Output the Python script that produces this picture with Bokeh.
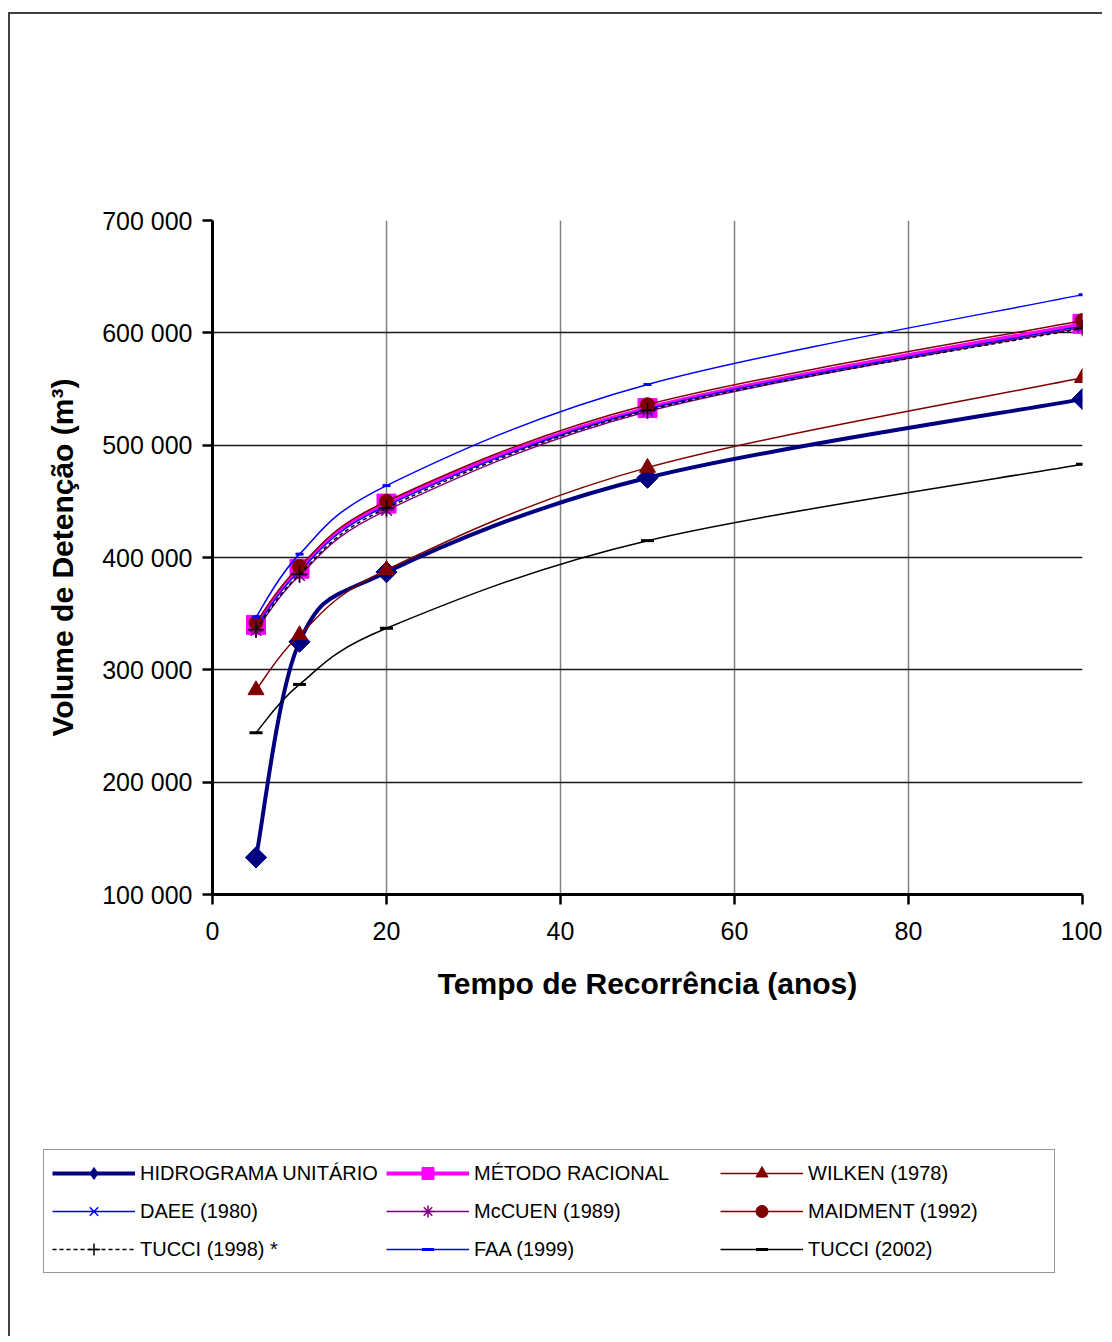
import math
from bokeh.plotting import figure
from bokeh.layouts import column
from bokeh.models import (Range1d, FixedTicker, CustomJSTickFormatter, Legend, LegendItem,
                          ColumnDataSource)
from bokeh.embed import file_html
from bokeh.resources import INLINE

# ---------------- data ----------------
tempo = [5, 10, 20, 50, 100]
hidrograma_unitario = [133000, 325000, 387000, 471000, 541000]
metodo_racional = [340000, 390000, 448000, 533000, 608000]
wilken_1978 = [282000, 331000, 389000, 480000, 560000]
daee_1980 = [338000, 388000, 446000, 532000, 606000]
mccuen_1989 = [335000, 384000, 442000, 530000, 605000]
maidment_1992 = [342000, 392000, 450000, 536000, 611000]
tucci_1998 = [336000, 385000, 444000, 531000, 604000]
faa_1999 = [347000, 403000, 464000, 554000, 634000]
tucci_2002 = [244000, 287000, 337000, 415000, 483000]

series_names = ["HIDROGRAMA UNITÁRIO", "MÉTODO RACIONAL", "WILKEN (1978)",
                "DAEE (1980)", "McCUEN (1989)", "MAIDMENT (1992)",
                "TUCCI (1998) *", "FAA (1999)", "TUCCI (2002)"]
series_values = [hidrograma_unitario, metodo_racional, wilken_1978,
                 daee_1980, mccuen_1989, maidment_1992,
                 tucci_1998, faa_1999, tucci_2002]

x_ticks = [0, 20, 40, 60, 80, 100]
y_ticks = [100000, 200000, 300000, 400000, 500000, 600000, 700000]

# ---------------- styles ----------------
styles = [
    dict(color="#000080", lw=4, dash="solid", marker="square", size=15, angle=math.pi / 4, fill="#000080", mlw=1,
         lmarker="diamond"),
    dict(color="#FF00FF", lw=4, dash="solid", marker="square", size=19, angle=0, fill="#FF00FF", mlw=1),
    dict(color="#800000", lw=1.5, dash="solid", marker="triangle", size=16, angle=0, fill="#800000", mlw=1),
    dict(color="#0000FF", lw=1.5, dash="solid", marker="x", size=14, angle=0, fill=None, mlw=1.5),
    dict(color="#800080", lw=1.5, dash="solid", marker="asterisk", size=15, angle=0, fill=None, mlw=1.5),
    dict(color="#800000", lw=1.5, dash="solid", marker="circle", size=14, angle=0, fill="#800000", mlw=1),
    dict(color="#000000", lw=1.5, dash="4 3", marker="cross", size=16, angle=0, fill=None, mlw=1.5),
    dict(color="#0000FF", lw=1.5, dash="solid", marker="dash", size=8, angle=0, fill=None, mlw=3),
    dict(color="#000000", lw=1.5, dash="solid", marker="dash", size=13, angle=0, fill=None, mlw=3),
]

FONT = "Liberation Sans"
BORDER = "2px solid #404040"

p = figure(frame_width=870, frame_height=674,
           min_border_left=202, min_border_top=206, min_border_right=20, min_border_bottom=206,
           x_range=Range1d(0, 100), y_range=Range1d(100000, 700000),
           output_backend="svg", toolbar_location=None,
           background_fill_color="white", border_fill_color="white")
p.outline_line_color = None

# axes
p.xaxis.ticker = FixedTicker(ticks=x_ticks)
p.yaxis.ticker = FixedTicker(ticks=y_ticks)
p.yaxis.formatter = CustomJSTickFormatter(
    code=r"return Math.round(tick).toString().replace(/\B(?=(\d{3})+(?!\d))/g, ' ');")
for ax in (p.xaxis[0], p.yaxis[0]):
    ax.axis_line_color = "black"
    ax.axis_line_width = 3
    ax.major_tick_line_color = "black"
    ax.major_tick_line_width = 2.5
    ax.major_tick_out = 10
    ax.major_tick_in = 0
    ax.minor_tick_line_color = None
    ax.major_label_text_font = FONT
    ax.major_label_text_font_size = "25px"
    ax.major_label_text_color = "black"
    ax.axis_label_text_font = FONT
    ax.axis_label_text_font_size = "30px"
    ax.axis_label_text_font_style = "bold"
    ax.axis_label_text_color = "black"
p.xaxis.major_label_standoff = 17
p.yaxis.major_label_standoff = 10
p.xaxis.axis_label = "Tempo de Recorrência (anos)"
p.yaxis.axis_label = "Volume de Detenção (m³)"
p.xaxis.axis_label_standoff = 24
p.yaxis.axis_label_standoff = 20

p.xgrid.ticker = FixedTicker(ticks=x_ticks)
p.ygrid.ticker = FixedTicker(ticks=y_ticks)
p.xgrid.grid_line_color = "#808080"
p.xgrid.grid_line_width = 1.5
p.ygrid.grid_line_color = "#1a1a1a"
p.ygrid.grid_line_width = 1.5


def bezier_source(xs, ys):
    """Catmull-Rom style smoothing (as Excel's smoothed lines) -> cubic Bezier segments."""
    n = len(xs)
    d = dict(x0=[], y0=[], x1=[], y1=[], cx0=[], cy0=[], cx1=[], cy1=[])
    for i in range(n - 1):
        pxv, pyv = (xs[i - 1], ys[i - 1]) if i > 0 else (xs[i], ys[i])
        nxv, nyv = (xs[i + 2], ys[i + 2]) if i + 2 < n else (xs[i + 1], ys[i + 1])
        d["x0"].append(xs[i]); d["y0"].append(ys[i])
        d["x1"].append(xs[i + 1]); d["y1"].append(ys[i + 1])
        d["cx0"].append(xs[i] + (xs[i + 1] - pxv) / 6.0)
        d["cy0"].append(ys[i] + (ys[i + 1] - pyv) / 6.0)
        d["cx1"].append(xs[i + 1] - (nxv - xs[i]) / 6.0)
        d["cy1"].append(ys[i + 1] - (nyv - ys[i]) / 6.0)
    return ColumnDataSource(d)


for vals, st in zip(series_values, styles):
    src = bezier_source(tempo, vals)
    p.bezier(x0="x0", y0="y0", x1="x1", y1="y1", cx0="cx0", cy0="cy0", cx1="cx1", cy1="cy1",
             source=src, line_color=st["color"], line_width=st["lw"], line_dash=st["dash"])
    p.scatter(x=tempo, y=vals, marker=st["marker"], size=st["size"], angle=st["angle"],
              line_color=st["color"], line_width=st["mlw"],
              fill_color=st["fill"] if st["fill"] else None)

# ---------------- legend panel (figure below the chart) ----------------
# Its renderers carry the series data but lie outside this panel's ranges, so only the legend shows.
pl = figure(width=1092, height=236, x_range=Range1d(-2, -1), y_range=Range1d(-2, -1),
            x_axis_type=None, y_axis_type=None, min_border=0,
            output_backend="svg", toolbar_location=None,
            background_fill_color="white", border_fill_color="white")
pl.outline_line_color = None
pl.grid.visible = False

for fig in (p, pl):
    if "frame_align" in fig.properties():
        fig.frame_align = False

items = []
for name, vals, st in zip(series_names, series_values, styles):
    lr = pl.line(x=tempo, y=vals, line_color=st["color"], line_width=st["lw"], line_dash=st["dash"])
    sr = pl.scatter(x=tempo, y=vals, marker=st.get("lmarker", st["marker"]), size=st["size"],
                    line_color=st["color"], line_width=st["mlw"],
                    fill_color=st["fill"] if st["fill"] else None)
    items.append(LegendItem(label=name, renderers=[lr, sr]))

legend = Legend(items=items, orientation="horizontal", ncols=3,
                location=(33, 63), margin=0,
                label_text_font=FONT, label_text_font_size="20px", label_text_color="black",
                glyph_width=83, glyph_height=30, label_height=30, label_width=238,
                label_standoff=5, spacing=8, padding=8,
                border_line_color="#303030", border_line_width=1.5,
                background_fill_color="white", background_fill_alpha=1)
pl.add_layout(legend, "center")

layout = column(p, pl, spacing=0,
                styles={"border-top": BORDER, "border-left": BORDER,
                        "margin-top": "12px", "margin-left": "8px"})

open("out.html", "w").write(file_html(layout, INLINE))
